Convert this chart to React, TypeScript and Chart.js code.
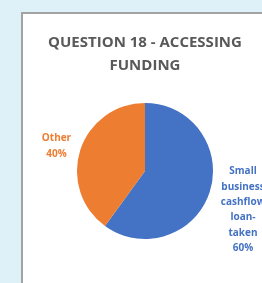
import React, { useEffect, useRef } from "react";
import { Chart, registerables } from "chart.js";

Chart.register(...registerables);

const titleLines = ["QUESTION 18 - ACCESSING", "FUNDING"];
const categories = ["Small business cashflow loan-taken", "Other"];
const categoryLabelLines = [
  ["Small", "business", "cashflow", "loan-", "taken"],
  ["Other"],
];
const values = [60, 40];
const colors = ["#4472C4", "#ED7D31"];
const labelOffsets = [35, 25];
const labelNudgeY = [7, 4];

const outsideLabels = {
  id: "outsideLabels",
  afterDatasetsDraw(chart: any) {
    const ctx = chart.ctx;
    const meta = chart.getDatasetMeta(0);
    const total = values.reduce((a, b) => a + b, 0);
    ctx.save();
    ctx.font = "bold 10px 'Open Sans'";
    ctx.textAlign = "center";
    ctx.textBaseline = "middle";
    const lh = 15.4;
    meta.data.forEach((arc: any, i: number) => {
      const p = arc.getProps(["x", "y", "startAngle", "endAngle", "outerRadius"], true);
      const mid = (p.startAngle + p.endAngle) / 2;
      const r = p.outerRadius + labelOffsets[i];
      const cx = p.x + Math.cos(mid) * r;
      const cy = p.y + Math.sin(mid) * r + labelNudgeY[i];
      const lines = [...categoryLabelLines[i], Math.round((values[i] / total) * 100) + "%"];
      const startY = cy - ((lines.length - 1) * lh) / 2;
      ctx.fillStyle = colors[i];
      lines.forEach((t, k) => ctx.fillText(t, cx, startY + k * lh));
    });
    ctx.restore();
  },
};

export default function App() {
  const ref = useRef<HTMLCanvasElement>(null);
  useEffect(() => {
    document.body.style.margin = "0";
    const chart = new Chart(ref.current!, {
      type: "pie",
      data: {
        labels: categories,
        datasets: [
          {
            data: values,
            backgroundColor: colors,
            borderWidth: 0,
          },
        ],
      },
      options: {
        responsive: false,
        animation: false,
        layout: { padding: { left: 40, right: 12, top: 0, bottom: 44 } },
        plugins: {
          legend: { display: false },
          tooltip: { enabled: false },
          title: {
            display: true,
            text: titleLines,
            color: "#595959",
            font: { family: "'Open Sans'", size: 15, weight: "bold", lineHeight: 1.53 },
            padding: { top: 31, bottom: 26 },
          },
        },
      },
      plugins: [outsideLabels],
    });
    return () => chart.destroy();
  }, []);
  return (
    <div style={{ position: "relative", width: 262, height: 283, background: "#def0f8", overflow: "hidden" }}>
      <div
        style={{
          position: "absolute",
          left: 21,
          top: 12,
          width: 300,
          height: 320,
          background: "#ffffff",
          border: "2px solid #a3a3a3",
          boxSizing: "border-box",
        }}
      />
      <canvas ref={ref} width={262} height={283} style={{ position: "absolute", left: 0, top: 0 }} />
    </div>
  );
}
